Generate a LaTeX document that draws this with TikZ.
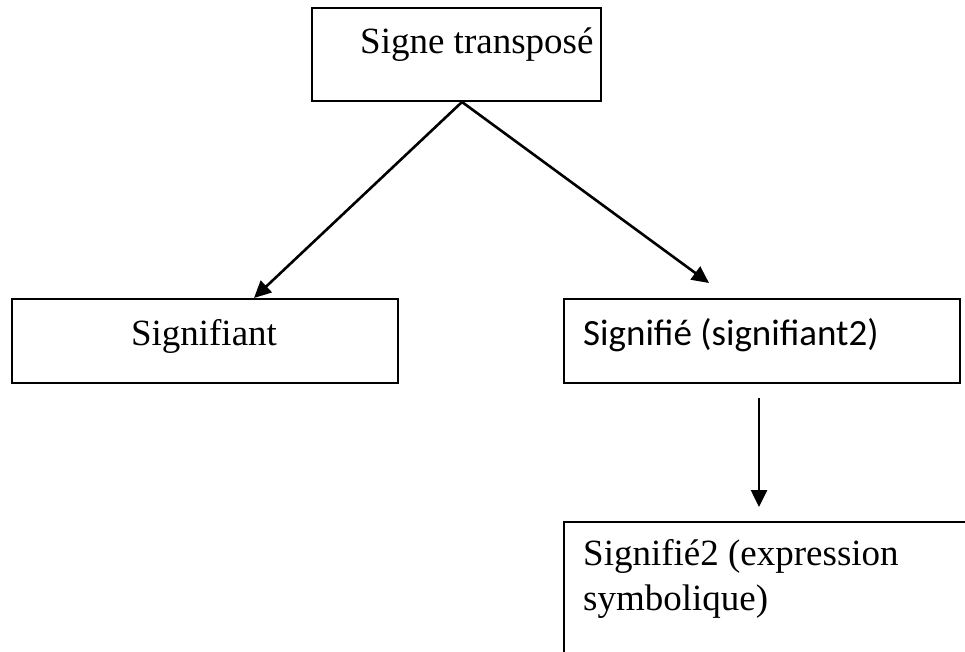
\documentclass[tikz,border=0pt]{standalone}
\usepackage{fontspec}
\setmainfont{Liberation Serif}
\newfontfamily\calibri{Carlito}
\usetikzlibrary{arrows.meta}
\begin{document}
\begin{tikzpicture}[x=1pt,y=-1pt,
  box/.style={draw, line width=2pt, rectangle, inner sep=0pt, anchor=north west},
  lbl/.style={inner sep=0pt, font=\fontsize{37}{44}\selectfont},
  conn/.style={line width=2.6pt, -{Triangle[length=17pt,width=16pt]}}]
\clip (0,0) rectangle (965,651);
\fill[white] (0,0) rectangle (965,651);
% boxes
\node[box, minimum width=289pt, minimum height=93pt] (top) at (311,7) {};
\node[box, minimum width=386pt, minimum height=84pt] (sl) at (11,298) {};
\node[box, minimum width=396pt, minimum height=84pt] (sf) at (563,298) {};
\node[box, minimum width=450pt, minimum height=200pt] (s2) at (563,521) {};
% texts
\node[lbl, anchor=base west] (ttop) at (360,53) {Signe transposé};
\node[lbl, anchor=base] (tsl) at (204,345) {Signifiant};
\node[lbl, anchor=base west, font=\calibri\fontsize{37}{44}\selectfont] (tsf) at (583,345) {Signifié (signifiant2)};
\node[lbl, anchor=base west] (ts2a) at (583,565) {Signifié2 (expression};
\node[lbl, anchor=base west] (ts2b) at (583,610) {symbolique)};
% connectors
\coordinate (apex) at ([xshift=5.5pt]top.south);
\coordinate (v1) at (759,398);
\coordinate (v2) at (759,507);
\draw[conn] (apex) -- ([xshift=49pt]sl.north);
\draw[conn] (apex) -- ([xshift=-53pt,yshift=15pt]sf.north);
\draw[conn] (v1) -- (v2);
\end{tikzpicture}
\end{document}
